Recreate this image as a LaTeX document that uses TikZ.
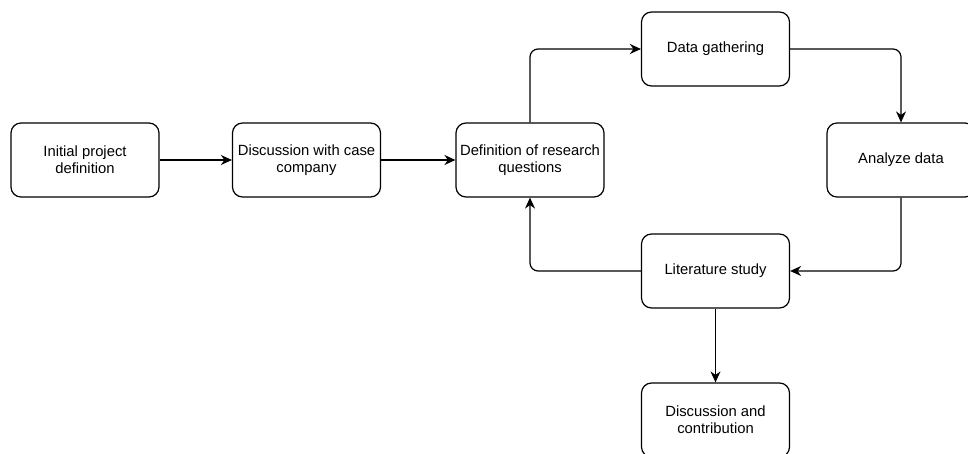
\documentclass[tikz,border=0pt]{standalone}
\usepackage{fontspec}
\setmainfont{Liberation Sans}
\usetikzlibrary{arrows.meta}

\begin{document}
\begin{tikzpicture}[x=1pt,y=-1pt,line width=1.2pt,
    flow/.style={-{Stealth[length=11pt,width=10pt,inset=3.5pt]}}]

      \clip (0,0) rectangle (968,454);

      \begin{scope}[every node/.style={draw,rounded corners=10pt,
          minimum width=148pt,minimum height=74pt,align=center,
          font=\fontsize{14.8}{17}\selectfont}]
        \node (init) at (85,160)    {Initial project\\definition};
        \node (disc) at (306.5,160) {Discussion with case\\company};
        \node (def)  at (530,160)   {Definition of research\\questions};
        \node (data) at (715.5,49)  {Data gathering};
        \node (ana)  at (901,160)   {Analyze data};
        \node (lit)  at (715.5,271) {Literature study};
        \node (dc)   at (715.5,420) {Discussion and\\contribution};
      \end{scope}

      \begin{scope}[rounded corners=8pt]
        \draw[flow] (init) -- (disc);
        \draw[flow] (disc) -- (def);
        \draw[flow] (def.north) |- (data.west);
        \draw[flow] (data.east) -| (ana.north);
        \draw[flow] (ana.south) |- (lit.east);
        \draw[flow] (lit.west) -| (def.south);
        \draw[flow] (lit) -- (dc);
      \end{scope}

    \end{tikzpicture}
\end{document}
